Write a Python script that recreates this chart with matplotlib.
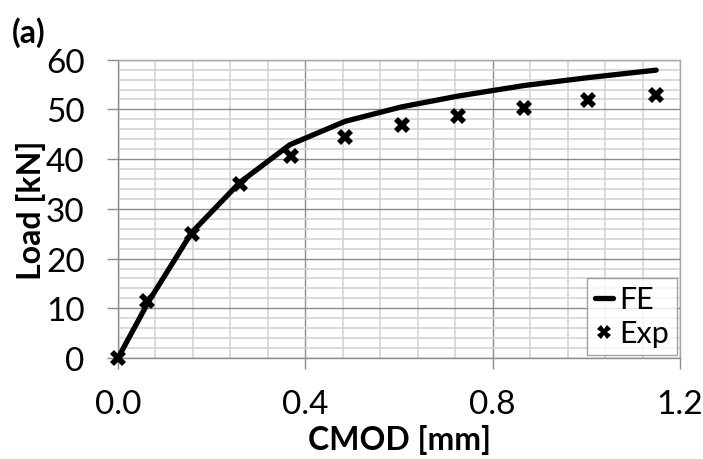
import matplotlib
matplotlib.use("Agg")
import matplotlib.pyplot as plt
from matplotlib.ticker import MultipleLocator, FormatStrFormatter

plt.rcParams['font.family'] = ['Lato', 'DejaVu Sans']

# Finite element prediction
fe_cmod = [0.0, 0.065, 0.157, 0.26, 0.367, 0.485, 0.605, 0.727, 0.867, 1.004, 1.149]
fe_load = [0.0, 11.3, 25.2, 35.3, 42.9, 47.6, 50.5, 52.7, 54.8, 56.4, 57.9]

# Experimental measurements
exp_cmod = [0.0, 0.061, 0.157, 0.26, 0.370, 0.485, 0.607, 0.727, 0.867, 1.004, 1.149]
exp_load = [0.0, 11.4, 25.0, 35.0, 40.7, 44.5, 46.9, 48.7, 50.3, 51.8, 53.0]

fig = plt.figure(figsize=(7.03, 4.60), dpi=100)
ax = fig.add_axes([118/703, 1 - 359/460, (680 - 118)/703, (359 - 60.7)/460])

ax.set_xlim(0, 1.2)
ax.set_ylim(0, 60)
ax.xaxis.set_major_locator(MultipleLocator(0.4))
ax.xaxis.set_minor_locator(MultipleLocator(0.08))
ax.yaxis.set_major_locator(MultipleLocator(10))
ax.yaxis.set_minor_locator(MultipleLocator(2))
ax.xaxis.set_major_formatter(FormatStrFormatter('%.1f'))

ax.grid(which='minor', color='#d4d4d4', linewidth=1.2)
ax.grid(which='major', color='#8c8c8c', linewidth=1.0)
ax.set_axisbelow(True)
for s in ax.spines.values():
    s.set_color('#8c8c8c')
    s.set_linewidth(1.0)
ax.spines['top'].set_color('#a6a6a6')
ax.spines['right'].set_color('#a6a6a6')

ax.tick_params(which='major', length=8, width=1.0, color='#8c8c8c',
               labelsize=24)
ax.tick_params(axis='y', which='major', pad=16)
ax.tick_params(axis='x', which='major', pad=14)
ax.tick_params(which='minor', length=0)

ax.plot(fe_cmod, fe_load, color='black', linewidth=3.8, label='FE',
        solid_capstyle='round', zorder=3, clip_on=False)
ax.plot(exp_cmod, exp_load, linestyle='none', marker='X', markersize=12,
        color='black', markeredgewidth=0, label='Exp', zorder=4, clip_on=False)

ax.set_xlabel('CMOD [mm]', fontsize=23, fontweight='bold', labelpad=4)
ax.set_ylabel('Load [kN]', fontsize=23, fontweight='bold', labelpad=0)

leg = ax.legend(loc='lower right', bbox_to_anchor=(677/703, 1 - 356/460),
                bbox_transform=fig.transFigure, fontsize=22, frameon=True,
                fancybox=False, handlelength=0.6, handletextpad=0.2,
                borderpad=0.25, labelspacing=0.2, borderaxespad=0,
                handleheight=0.7, markerscale=0.8)
leg.get_frame().set_edgecolor('#8c8c8c')
leg.get_frame().set_linewidth(1.0)

fig.text(12/703, 1 - 33/460, '(a)', fontsize=23, fontweight='bold',
         va='center', ha='left')

fig.savefig('out.png', dpi=100)
